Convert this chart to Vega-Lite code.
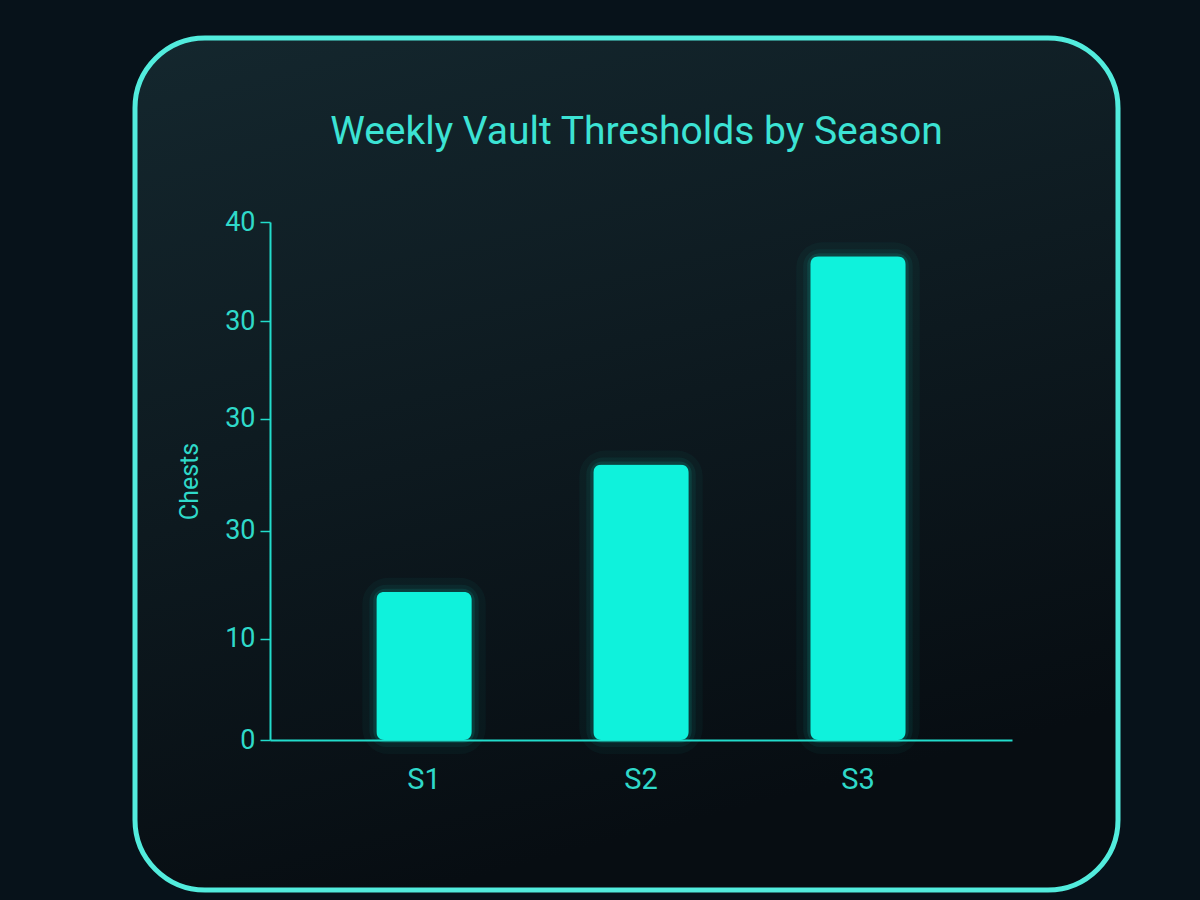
{
  "$schema": "https://vega.github.io/schema/vega-lite/v6.json",
  "width": 983,
  "height": 852,
  "autosize": {"type": "none"},
  "padding": {"left": 135, "top": 38, "right": 82, "bottom": 10},
  "background": "#07121a",
  "title": {
    "text": "Weekly Vault Thresholds by Season",
    "font": "Roboto",
    "fontSize": 39,
    "fontWeight": "normal",
    "color": "#3ce3d4",
    "anchor": "middle",
    "frame": "group",
    "baseline": "top",
    "offset": -80,
    "dx": 10,
    "dy": 34
  },
  "data": {
    "values": [
      {"season": "S1", "chests": 14.3},
      {"season": "S2", "chests": 26.6},
      {"season": "S3", "chests": 46.7}
    ]
  },
  "encoding": {
    "x": {
      "field": "season",
      "type": "nominal",
      "sort": null,
      "scale": {"range": [135, 877], "paddingInner": 0.56, "paddingOuter": 0.49},
      "axis": {
        "title": null,
        "orient": "bottom",
        "offset": -150,
        "domainColor": "#22dccb",
        "domainWidth": 2,
        "ticks": false,
        "labelFont": "Roboto",
        "labelFontSize": 29,
        "labelColor": "#2fd9c9",
        "labelPadding": 25,
        "labelAngle": 0
      }
    },
    "y": {
      "field": "chests",
      "type": "quantitative",
      "scale": {"domain": [0, 50], "range": [702, 184], "nice": false, "zero": true},
      "axis": {
        "title": "Chests",
        "orient": "left",
        "offset": -135,
        "values": [0, 9.75, 20.2, 31, 40.4, 50],
        "labelExpr": "datum.value == 0 ? '0' : datum.value < 15 ? '10' : datum.value < 45 ? '30' : '40'",
        "grid": false,
        "domainColor": "#22dccb",
        "domainWidth": 2,
        "tickColor": "#22dccb",
        "tickSize": 10,
        "tickWidth": 1.5,
        "labelFont": "Roboto",
        "labelFontSize": 27,
        "labelColor": "#2fd9c9",
        "labelPadding": 5,
        "titleFont": "Roboto",
        "titleFontSize": 25,
        "titleFontWeight": "normal",
        "titleColor": "#2fd9c9",
        "titlePadding": 22
      }
    }
  },
  "layer": [
    {"mark": {"type": "bar", "fill": "#10f2dc", "fillOpacity": 0, "stroke": "#10f2dc", "strokeWidth": 28, "strokeOpacity": 0.035, "cornerRadius": 12}},
    {"mark": {"type": "bar", "fill": "#10f2dc", "fillOpacity": 0, "stroke": "#10f2dc", "strokeWidth": 14, "strokeOpacity": 0.06, "cornerRadius": 10}},
    {"mark": {"type": "bar", "fill": "#10f2dc", "fillOpacity": 0, "stroke": "#10f2dc", "strokeWidth": 6, "strokeOpacity": 0.1, "cornerRadius": 9}},
    {"mark": {"type": "bar", "color": "#0ff2dc", "cornerRadius": 8}}
  ],
  "config": {
    "view": {
      "fill": {
        "gradient": "linear",
        "x1": 0, "y1": 0, "x2": 0.3, "y2": 1,
        "stops": [
          {"offset": 0, "color": "#14272e"},
          {"offset": 1, "color": "#070d12"}
        ]
      },
      "stroke": "#52ecdd",
      "strokeWidth": 5,
      "cornerRadius": 70
    }
  }
}
